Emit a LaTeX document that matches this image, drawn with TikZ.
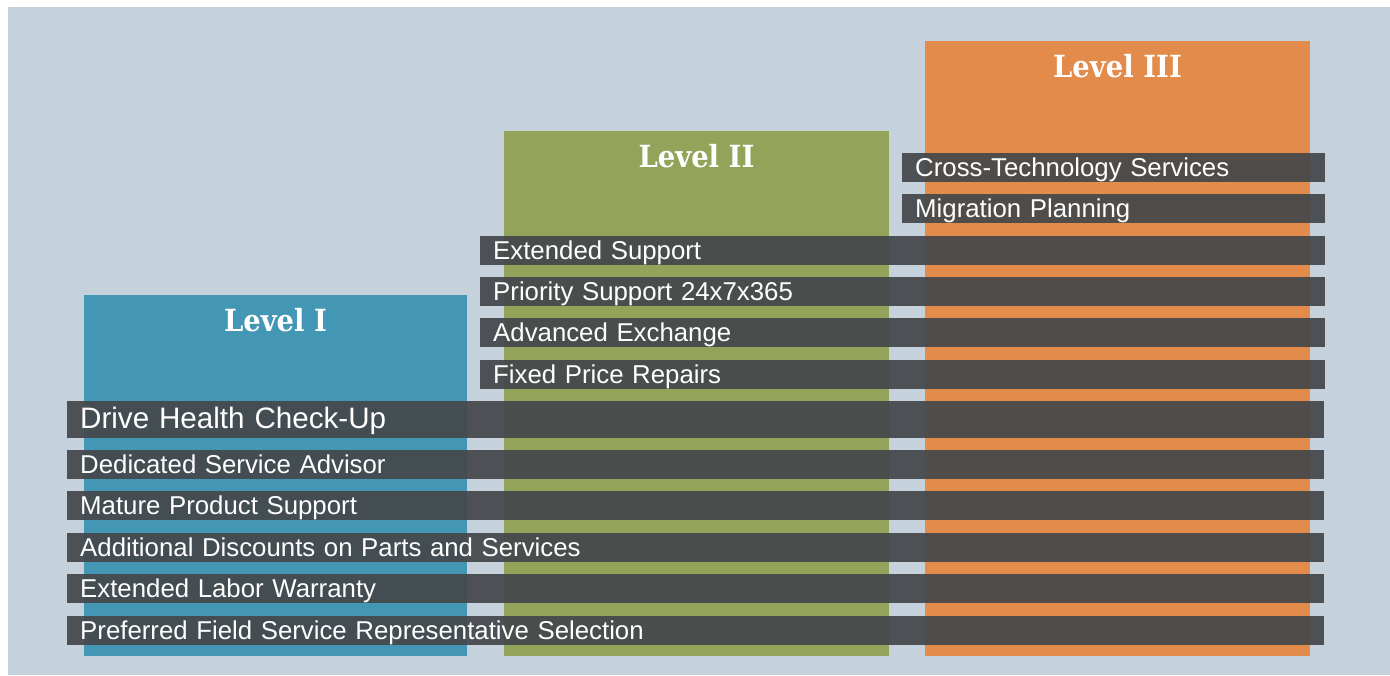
\documentclass[tikz,border=0pt]{standalone}
\usepackage{fontspec}
\setmainfont{Liberation Sans}
\newfontfamily\titlefont[FakeStretch=0.9]{DejaVu Serif}
\usetikzlibrary{positioning}

\definecolor{panelbg}{HTML}{C5D2DC}
\definecolor{lvlone}{HTML}{4396B4}
\definecolor{lvltwo}{HTML}{93A35A}
\definecolor{lvlthree}{HTML}{E38B4A}
\definecolor{bandgray}{HTML}{44484B}

\tikzset{
	bar/.style={anchor=north west, inner sep=0pt, outer sep=0pt},
	bartitle/.style={text=white, font=\titlefont\bfseries\fontsize{30.5}{34}\selectfont},
	band/.style={anchor=north west, fill=bandgray, fill opacity=0.93, text opacity=1,
		text=white, inner xsep=13pt, inner ysep=0pt, minimum height=29pt, align=left,
		text height=20pt, text depth=3pt, font=\fontsize{25.8}{29}\selectfont},
	wideband/.style={band, text width=819pt},
	longband/.style={band, text width=1231pt}
}

\begin{document}
\begin{tikzpicture}[x=1pt,y=-1pt]
			\useasboundingbox (0,0) rectangle (1390,675);
			\fill[panelbg] (8,7) rectangle (1390,675);
			% the three level columns
			\node[bar, fill=lvlone, minimum width=383, minimum height=361] (lvlI) at (84,295) {};
			\node[bar, fill=lvltwo, minimum width=385, minimum height=525] (lvlII) at (504,131) {};
			\node[bar, fill=lvlthree, minimum width=385, minimum height=615] (lvlIII) at (925,41) {};
			\node[bartitle, below=10pt of lvlI.north] (tI) {Level I};
			\node[bartitle, below=10pt of lvlII.north] (tII) {Level II};
			\node[bartitle, below=10pt of lvlIII.north] (tIII) {Level III};
			% level III services
			\node[band, text width=397pt] (cross) at (902,153) {Cross-Technology Services};
			\node[band, text width=397pt] (migr) at (902,194) {Migration Planning};
			% level II services
			\node[wideband] (extsup) at (480,236) {Extended Support};
			\node[wideband] (prio) at (480,277) {Priority Support 24x7x365};
			\node[wideband] (advex) at (480,318) {Advanced Exchange};
			\node[wideband] (fixed) at (480,360) {Fixed Price Repairs};
			% level I services
			\node[longband, minimum height=37pt, text height=22pt, text depth=4.5pt,
				font=\fontsize{29.6}{33}\selectfont] (drive) at (67,401) {Drive Health Check-Up};
			\node[longband] (dedic) at (67,450) {Dedicated Service Advisor};
			\node[longband] (mature) at (67,491) {Mature Product Support};
			\node[longband] (disc) at (67,533) {Additional Discounts on Parts and Services};
			\node[longband] (labor) at (67,574) {Extended Labor Warranty};
			\node[longband] (field) at (67,616) {Preferred Field Service Representative Selection};
		\end{tikzpicture}
\end{document}
